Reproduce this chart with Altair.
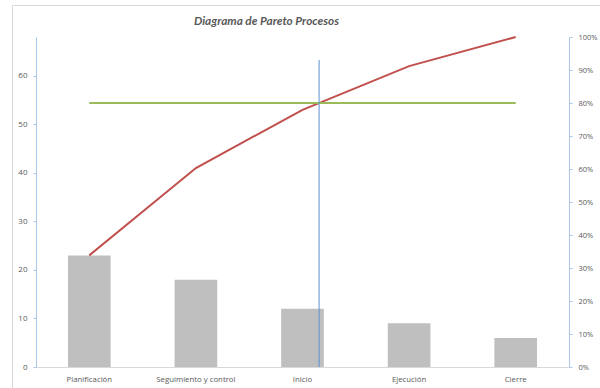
import altair as alt
import pandas as pd

categorias = ["Planificación", "Seguimiento y control", "Inicio", "Ejecución", "Cierre"]
frecuencias = [23, 18, 12, 9, 6]
umbral = 0.8
tope_linea_azul = 0.93

total = sum(frecuencias)
acum = []
s = 0
for v in frecuencias:
    s += v
    acum.append(s / total)

df = pd.DataFrame({"cat": categorias, "freq": frecuencias, "pct": acum, "umbral": [umbral] * len(categorias)})

# where cumulative curve crosses the 80% threshold
idx = next(i for i, p in enumerate(acum) if p >= umbral)
prev = acum[idx - 1]
frac = (umbral - prev) / (acum[idx] - prev)
pad_inner = 0.6
band_pos = 0.5 + frac / (1 - pad_inner)
cat_cruce = categorias[idx - 1]
df_rule = pd.DataFrame({"cat": [cat_cruce], "y0": [0.0], "y1": [tope_linea_azul]})

FONT = "Open Sans"
GRAY = "#595959"
AXBLUE = "#A9C8E8"

xenc = alt.X("cat:N", sort=categorias, title=None,
             scale=alt.Scale(paddingInner=pad_inner, paddingOuter=pad_inner / 2),
             axis=alt.Axis(labelAngle=0, ticks=False, domainColor="#D9D9D9", labelFontSize=7.8,
                           labelColor=GRAY, labelPadding=8, labelFont=FONT))

frame = alt.Chart(pd.DataFrame({"a": [0]})).mark_rect(fill=None, stroke="#D9D9D9", strokeWidth=1).encode(
    x=alt.value(-23.5), x2=alt.value(620), y=alt.value(-31.5), y2=alt.value(420))

bars = alt.Chart(df).mark_bar(color="#BFBFBF").encode(
    x=xenc,
    y=alt.Y("freq:Q", title=None,
            scale=alt.Scale(domain=[0, total], nice=False),
            axis=alt.Axis(values=list(range(0, 70, 10)), grid=False, domainColor=AXBLUE, tickColor=AXBLUE,
                          tickSize=3, labelFontSize=8, labelColor=GRAY, labelPadding=6, labelFont=FONT)))

pct_ticks = [round(i / 10, 1) for i in range(11)]
right_axis = alt.Axis(orient="right", format=".0%", values=pct_ticks, grid=False,
                      domainColor=AXBLUE, tickColor=AXBLUE, tickSize=3, labelFontSize=7.5,
                      labelOverlap=False, labelColor=GRAY, labelPadding=6, labelFont=FONT)
right_scale = alt.Scale(domain=[0, 1], nice=False)

line = alt.Chart(df).mark_line(color="#C0504D", strokeWidth=2).encode(
    x=alt.X("cat:N", sort=categorias),
    y=alt.Y("pct:Q", title=None, scale=right_scale, axis=right_axis))
green = alt.Chart(df).mark_line(color="#9BBB59", strokeWidth=2).encode(
    x=alt.X("cat:N", sort=categorias),
    y=alt.Y("umbral:Q", title=None, scale=right_scale, axis=right_axis))
blue = alt.Chart(df_rule).mark_rule(color="#5B8FD0", strokeWidth=1).encode(
    x=alt.X("cat:N", sort=categorias, bandPosition=band_pos),
    y=alt.Y("y0:Q", title=None, scale=right_scale, axis=right_axis), y2="y1:Q")

right = alt.layer(line, green, blue)

chart = alt.layer(frame, bars, right).resolve_scale(y="independent").properties(
    width=533, height=330,
    autosize=alt.AutoSizeParams(type="none"),
    padding={"left": 36, "top": 37, "right": 31, "bottom": 21},
    title=alt.TitleParams("Diagrama de Pareto Procesos", font="Lato", fontSize=11.8, fontStyle="italic",
                          fontWeight="bold", color=GRAY, offset=-23, dx=-36),
    background="white",
).configure_view(stroke=None)

chart.save("out.html", embed_options={"renderer": "svg", "actions": False})
